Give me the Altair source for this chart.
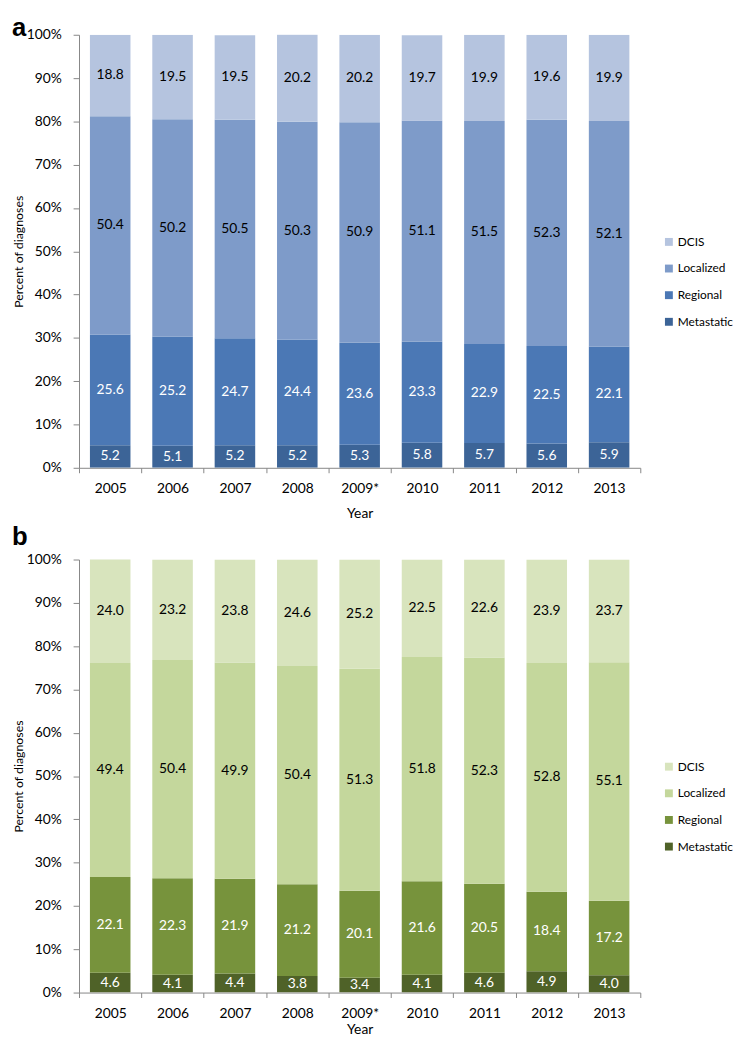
import altair as alt
import pandas as pd

years = ['2005', '2006', '2007', '2008', '2009*', '2010', '2011', '2012', '2013']
stages = ['Metastatic', 'Regional', 'Localized', 'DCIS']
legend_order = ['DCIS', 'Localized', 'Regional', 'Metastatic']

a_dcis = [18.8, 19.5, 19.5, 20.2, 20.2, 19.7, 19.9, 19.6, 19.9]
a_loc = [50.4, 50.2, 50.5, 50.3, 50.9, 51.1, 51.5, 52.3, 52.1]
a_reg = [25.6, 25.2, 24.7, 24.4, 23.6, 23.3, 22.9, 22.5, 22.1]
a_met = [5.2, 5.1, 5.2, 5.2, 5.3, 5.8, 5.7, 5.6, 5.9]

b_dcis = [24.0, 23.2, 23.8, 24.6, 25.2, 22.5, 22.6, 23.9, 23.7]
b_loc = [49.4, 50.4, 49.9, 50.4, 51.3, 51.8, 52.3, 52.8, 55.1]
b_reg = [22.1, 22.3, 21.9, 21.2, 20.1, 21.6, 20.5, 18.4, 17.2]
b_met = [4.6, 4.1, 4.4, 3.8, 3.4, 4.1, 4.6, 4.9, 4.0]

a_colors = ['#b5c4df', '#7e9bc9', '#4b78b5', '#3c6497']
b_colors = ['#d8e4bd', '#c4d79c', '#77933c', '#4f6228']

FONT = 'Lato'
W, H = 569, 439


def make_df(met, reg, loc, dcis):
    rows = []
    for i, y in enumerate(years):
        for order, (stage, vals) in enumerate(zip(stages, [met, reg, loc, dcis])):
            rows.append({'year': y, 'stage': stage, 'value': vals[i], 'order': order})
    return pd.DataFrame(rows)


def panel(df, colors, letter, letter_y, x_title_pad):
    base = alt.Chart(df).transform_stack(
        stack='value', groupby=['year'], as_=['lo', 'hi'],
        sort=[alt.SortField('order', order='ascending')]
    ).transform_calculate(
        mid='(datum.lo + datum.hi) / 2',
        tc="datum.order <= 1 ? 'white' : 'black'"
    )
    x = alt.X('year:N', sort=years, title='Year',
              scale=alt.Scale(paddingInner=0, paddingOuter=0),
              axis=alt.Axis(labelAngle=0, tickBand='extent', tickSize=5,
                            domainColor='#868686', tickColor='#868686',
                            labelFont=FONT, labelFontSize=14, labelColor='black',
                            labelPadding=9, titleFont=FONT, titleFontSize=14,
                            titleFontWeight='normal', titleColor='black',
                            titlePadding=x_title_pad))
    bars = base.mark_bar(width={'band': 0.65}, clip=True).encode(
        x=x,
        y=alt.Y('lo:Q', title='Percent of diagnoses',
                scale=alt.Scale(domain=[0, 100], nice=False),
                axis=alt.Axis(values=list(range(0, 101, 10)), labelExpr="datum.value + '%'",
                              grid=False, tickSize=6, domainColor='#868686', tickColor='#868686',
                              labelFont=FONT, labelFontSize=14, labelColor='black', labelPadding=12,
                              titleFont=FONT, titleFontSize=12.5, titleFontWeight='normal',
                              titleColor='black', titlePadding=1)),
        y2='hi:Q',
        color=alt.Color('stage:N', scale=alt.Scale(domain=legend_order, range=colors),
                        legend=alt.Legend(title=None, orient='none', legendX=592, legendY=204,
                                          symbolType='square', symbolSize=64,
                                          symbolStrokeWidth=0, labelFont=FONT,
                                          labelFontSize=12, labelColor='black',
                                          rowPadding=15, labelOffset=3, padding=0))
    )
    text = base.mark_text(font=FONT, fontSize=14, baseline='middle').encode(
        x=alt.X('year:N', sort=years),
        y=alt.Y('mid:Q'),
        text=alt.Text('value:Q', format='.1f'),
        color=alt.Color('tc:N', scale=None)
    )
    tag = alt.Chart(pd.DataFrame({'t': [letter]})).mark_text(
        font='Liberation Sans', fontSize=26, fontWeight='bold', align='left',
        baseline='alphabetic', color='black'
    ).encode(x=alt.value(-68), y=alt.value(letter_y), text='t:N')
    return alt.layer(bars, text, tag).properties(width=W, height=H)


pa = panel(make_df(a_met, a_reg, a_loc, a_dcis), a_colors, 'a', 1, 11)
pb = panel(make_df(b_met, b_reg, b_loc, b_dcis), b_colors, 'b', -15, 2)

chart = alt.vconcat(pa, pb, spacing=4).resolve_scale(color='independent').properties(
    padding={'left': 4, 'top': 0, 'right': 0, 'bottom': 0}
).configure_view(stroke=None)

chart.save('out.html', embed_options={'renderer': 'svg', 'actions': False})
